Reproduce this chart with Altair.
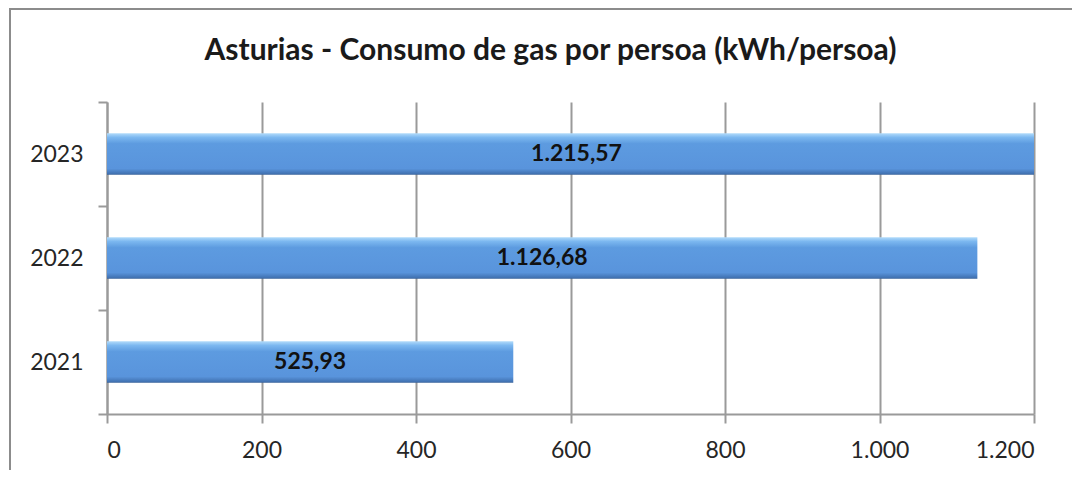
import altair as alt
import pandas as pd

years = ["2021", "2022", "2023"]
values = [525.93, 1126.68, 1215.57]
labels = ["525,93", "1.126,68", "1.215,57"]
x_ticks = [0, 200, 400, 600, 800, 1000, 1200]
year_order = ["2023", "2022", "2021"]

df = pd.DataFrame({"year": years, "value": values, "label": labels})

FONT = "Lato"
GRID = "#9a9a9a"
TXT = "#262626"

grad = alt.Gradient(
    gradient="linear", x1=0, y1=0, x2=0, y2=1,
    stops=[
        alt.GradientStop(color="#b3dcfb", offset=0),
        alt.GradientStop(color="#7cb8f0", offset=0.1),
        alt.GradientStop(color="#5d9be0", offset=0.25),
        alt.GradientStop(color="#5994dc", offset=0.85),
        alt.GradientStop(color="#4273b3", offset=0.97),
        alt.GradientStop(color="#365f96", offset=1),
    ],
)

y_enc = alt.Y(
    "year:N", sort=year_order, title=None,
    scale=alt.Scale(paddingInner=0, paddingOuter=0),
    axis=alt.Axis(tickBand="extent", ticks=True, tickSize=9, tickColor=GRID,
                  tickWidth=2, domainColor=GRID, domainWidth=2, grid=False,
                  labelPadding=15, labelFontSize=23, labelFont=FONT,
                  labelColor=TXT),
)
x_enc = alt.X(
    "value:Q", title=None,
    scale=alt.Scale(domain=[0, 1200], nice=False, zero=True),
    axis=alt.Axis(values=x_ticks, grid=True, gridColor=GRID, gridWidth=2,
                  domainColor=GRID, domainWidth=2, tickColor=GRID, tickWidth=2,
                  tickSize=9, labelPadding=16, labelFontSize=23, labelFont=FONT,
                  labelColor=TXT,
                  labelExpr="replace(format(datum.value, ','), ',', '.')"),
)

base = alt.Chart(df)

bars = base.mark_bar(color=grad, height={"band": 0.4}, clip=True).encode(
    x=x_enc, y=y_enc
)

text = base.transform_calculate(mid="datum.value / 2").mark_text(
    font=FONT, fontWeight="bold", fontSize=23, color="#111111"
).encode(
    x=alt.X("mid:Q"),
    y=alt.Y("year:N", sort=year_order),
    text="label:N",
)

frame = alt.Chart(alt.Data(values=[{}])).mark_rect(
    filled=False, stroke="#8c8c8c", strokeWidth=2
).encode(
    x=alt.value(-97), x2=alt.value(1100), y=alt.value(-93), y2=alt.value(500)
)

chart = alt.layer(frame, bars, text).properties(
    width=927,
    height=312,
    autosize=alt.AutoSizeParams(type="none"),
    padding={"left": 99, "top": 94, "right": 38, "bottom": 56},
    background="white",
    title=alt.Title(
        "Asturias - Consumo de gas por persoa (kWh/persoa)",
        font=FONT, fontSize=30, fontWeight="bold", color="#1a1a1a",
        anchor="middle", frame="group", dx=-20, offset=-58,
    ),
).configure_view(stroke=None)

chart.save("out.html", embed_options={"renderer": "svg", "actions": False})
